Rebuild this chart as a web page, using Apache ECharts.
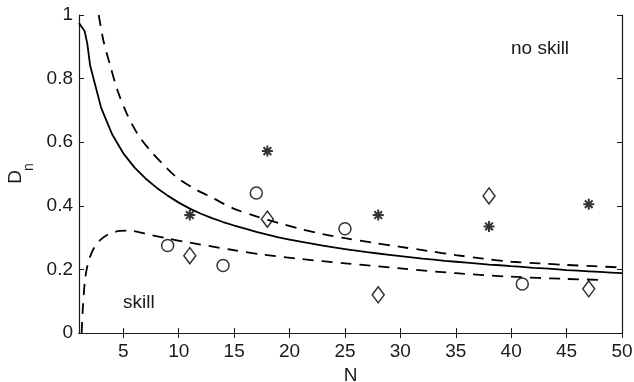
<!DOCTYPE html>
<html>
<head>
<meta charset="utf-8">
<script src="https://cdn.jsdelivr.net/npm/echarts@6/dist/echarts.min.js"></script>
<style>
  html, body { margin: 0; padding: 0; background: #fff; }
  #chart { width: 634px; height: 382px; }
</style>
</head>
<body>
<div id="chart"></div>
<script>
// critical value curve (solid)
const solidN = [1, 1.5, 1.75, 2, 3, 4, 5, 6, 7, 8, 9, 10, 11, 12, 13, 14, 15, 16, 17, 18, 19, 20,
    21, 22, 23, 24, 25, 26, 27, 28, 29, 30, 31, 32, 33, 34, 35, 36, 37, 38, 39, 40,
    41, 42, 43, 44, 45, 46, 47, 48, 49, 50]
const solidD = [0.975, 0.95, 0.91, 0.842, 0.708, 0.624, 0.565, 0.521, 0.486, 0.457, 0.432, 0.410,
    0.391, 0.375, 0.361, 0.349, 0.338, 0.328, 0.318, 0.309, 0.301, 0.294,
    0.287, 0.281, 0.275, 0.269, 0.264, 0.259, 0.254, 0.250, 0.246, 0.242,
    0.238, 0.234, 0.231, 0.227, 0.224, 0.221, 0.218, 0.215, 0.213, 0.210,
    0.208, 0.205, 0.203, 0.201, 0.198, 0.196, 0.194, 0.192, 0.190, 0.188]
// upper dashed curve
const upperN = [2.78, 3.2, 3.8, 4.5, 5.3, 6.3, 7.4, 8.6, 9.8, 11.5, 13.1, 14.9, 17, 19.1, 21, 23,
    25, 27.5, 30, 32.5, 35, 37.5, 40, 42.5, 45, 47.5, 50]
const upperD = [1.0, 0.92, 0.843, 0.76, 0.691, 0.625, 0.575, 0.53, 0.49, 0.452, 0.424, 0.392, 0.367,
    0.345, 0.327, 0.311, 0.298, 0.284, 0.271, 0.258, 0.245, 0.234, 0.224, 0.219, 0.214, 0.21, 0.206]
// lower dashed curve
const lowerN = [1.24, 1.35, 1.54, 1.75, 2.0, 2.4, 2.9, 3.8, 4.7, 5.5, 7, 8.9, 11, 14.9, 17.5, 20.9,
    25, 30, 35, 40, 45, 48.2]
const lowerD = [0, 0.08, 0.167, 0.21, 0.24, 0.27, 0.292, 0.313, 0.321, 0.322, 0.312, 0.298, 0.284,
    0.261, 0.247, 0.233, 0.219, 0.203, 0.188, 0.177, 0.170, 0.167]
// markers
const circleN = [9, 14, 17, 25, 41]
const circleD = [0.275, 0.212, 0.44, 0.328, 0.154]
const diamondN = [11, 18, 28, 38, 47]
const diamondD = [0.243, 0.358, 0.12, 0.431, 0.139]
const starN = [11, 18, 28, 38, 47]
const starD = [0.371, 0.572, 0.371, 0.335, 0.405]
const xTicks = [5, 10, 15, 20, 25, 30, 35, 40, 45, 50]

const font = 'Liberation Sans, Arial, Helvetica, sans-serif'
const ink = '#1a1a1a'
const pairs = (xs, ys) => xs.map((x, i) => [x, ys[i]])

const asterisk = 'path://M5 0V10M0 5H10M1.5 1.5L8.5 8.5M8.5 1.5L1.5 8.5'

const frameLine = { show: true, lineStyle: { color: ink, width: 1.2 } }
const tickIn = { show: true, inside: true, length: 5, lineStyle: { color: ink, width: 1 } }

const chart = echarts.init(document.getElementById('chart'))
chart.setOption({
    animation: false,
    backgroundColor: '#fff',
    grid: { left: 79, right: 12, top: 15, bottom: 49, outerBoundsMode: 'none' },
    xAxis: [{
        type: 'value',
        min: 1,
        max: 50,
        position: 'bottom',
        axisLine: frameLine,
        axisTick: Object.assign({ customValues: xTicks }, tickIn),
        axisLabel: { customValues: xTicks, color: ink, fontSize: 19, fontFamily: font, margin: 9 },
        splitLine: { show: false },
        name: 'N',
        nameLocation: 'middle',
        nameGap: 30,
        nameTextStyle: { color: ink, fontSize: 19, fontFamily: font }
    }, {
        type: 'value',
        min: 1,
        max: 50,
        position: 'top',
        axisLine: frameLine,
        axisTick: Object.assign({ customValues: xTicks }, tickIn),
        axisLabel: { show: false },
        splitLine: { show: false }
    }],
    yAxis: [{
        type: 'value',
        min: 0,
        max: 1,
        interval: 0.2,
        position: 'left',
        axisLine: frameLine,
        axisTick: tickIn,
        axisLabel: { color: ink, fontSize: 19, fontFamily: font, margin: 6 },
        splitLine: { show: false }
    }, {
        type: 'value',
        min: 0,
        max: 1,
        interval: 0.2,
        position: 'right',
        axisLine: frameLine,
        axisTick: tickIn,
        axisLabel: { show: false },
        splitLine: { show: false }
    }],
    graphic: [
        { type: 'text', x: 16, y: 177, rotation: Math.PI / 2,
          style: { text: 'D', font: '19px ' + font, fill: ink, align: 'center', verticalAlign: 'middle' } },
        { type: 'text', x: 29, y: 167, rotation: Math.PI / 2,
          style: { text: 'n', font: '14px ' + font, fill: ink, align: 'center', verticalAlign: 'middle' } },
        { type: 'text', x: 511, y: 49,
          style: { text: 'no skill', font: '19px ' + font, fill: ink, align: 'left', verticalAlign: 'middle' } },
        { type: 'text', x: 123, y: 303,
          style: { text: 'skill', font: '19px ' + font, fill: ink, align: 'left', verticalAlign: 'middle' } }
    ],
    series: [{
        type: 'line',
        data: pairs(solidN, solidD),
        showSymbol: false,
        lineStyle: { color: '#000', width: 1.8 },
        clip: true
    }, {
        type: 'line',
        data: pairs(upperN, upperD),
        showSymbol: false,
        smooth: 0.3,
        lineStyle: { color: '#000', width: 1.8, type: [11, 8] },
        clip: true
    }, {
        type: 'line',
        data: pairs(lowerN, lowerD),
        showSymbol: false,
        smooth: 0.3,
        lineStyle: { color: '#000', width: 1.8, type: [11, 8] },
        clip: true
    }, {
        type: 'scatter',
        data: pairs(circleN, circleD),
        symbol: 'circle',
        symbolSize: 12,
        itemStyle: { color: 'transparent', borderColor: '#000', borderWidth: 1.5 }
    }, {
        type: 'scatter',
        data: pairs(diamondN, diamondD),
        symbol: 'diamond',
        symbolSize: [12, 16],
        itemStyle: { color: 'transparent', borderColor: '#000', borderWidth: 1.5 }
    }, {
        type: 'scatter',
        data: pairs(starN, starD),
        symbol: asterisk,
        symbolSize: 11,
        itemStyle: { color: 'transparent', borderColor: '#000', borderWidth: 2 }
    }]
})
</script>
</body>
</html>
